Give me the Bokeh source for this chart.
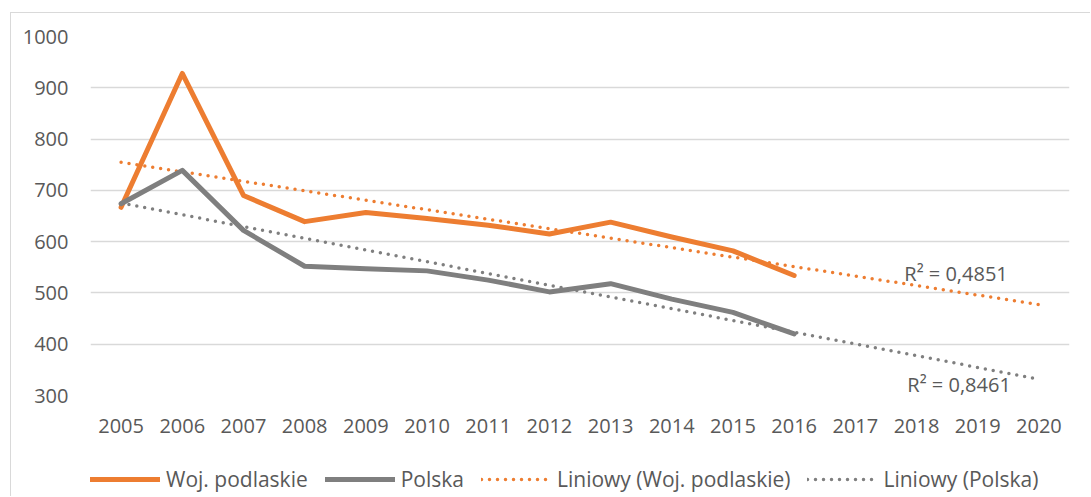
import numpy as np
from bokeh.plotting import figure
from bokeh.layouts import column
from bokeh.models import Range1d, FixedTicker, Legend, LegendItem, ColumnDataSource
from bokeh.core.properties import value
from bokeh.embed import file_html
from bokeh.resources import INLINE

# ---- data ----
years = [2005, 2006, 2007, 2008, 2009, 2010, 2011, 2012, 2013, 2014, 2015, 2016]
axis_years = [2005, 2006, 2007, 2008, 2009, 2010, 2011, 2012, 2013, 2014, 2015, 2016,
              2017, 2018, 2019, 2020]
podlaskie = [667, 928, 690, 639, 657, 645, 632, 615, 638, 609, 582, 534]
polska = [674, 739, 622, 552, 547, 543, 525, 502, 518, 488, 462, 420]
y_ticks = [300, 400, 500, 600, 700, 800, 900, 1000]
r2_podlaskie = "R² = 0,4851"
r2_polska = "R² = 0,8461"
series_names = ["Woj. podlaskie", "Polska", "Liniowy (Woj. podlaskie)", "Liniowy (Polska)"]

ORANGE = "#ED7D31"
GRAY = "#7F7F7F"
TEXT = "#595959"
FONT = "Open Sans"
SOLID = dict(line_width=5, line_cap="round", line_join="round")
DOTTED = dict(line_width=3.5, line_dash="0 8", line_cap="round")

# linear trend lines (as in the spreadsheet's "Liniowy" trendline), extended to 2020
trend_x = [axis_years[0], axis_years[-1]]
k1, b1 = np.polyfit(years, podlaskie, 1)
k2, b2 = np.polyfit(years, polska, 1)
trend_podlaskie = [k1 * x + b1 for x in trend_x]
trend_polska = [k2 * x + b2 for x in trend_x]

src_main = ColumnDataSource(dict(x=years, a=podlaskie, b=polska))
src_trend = ColumnDataSource(dict(x=trend_x, a=trend_podlaskie, b=trend_polska))

p = figure(width=1079, height=432, output_backend="svg", toolbar_location=None,
           x_range=Range1d(2004.5, 2020.5), y_range=Range1d(300, 1000),
           min_border_left=79, min_border_right=21, min_border_top=23, min_border_bottom=50)
p.outline_line_color = None
p.background_fill_color = "white"
p.border_fill_color = "white"

p.xgrid.grid_line_color = None
p.ygrid.grid_line_color = "#d9d9d9"
p.ygrid.grid_line_width = 1.5

p.xaxis.ticker = FixedTicker(ticks=axis_years)
p.yaxis.ticker = FixedTicker(ticks=y_ticks)
for ax in (p.xaxis, p.yaxis):
    ax.axis_line_color = None
    ax.major_tick_line_color = None
    ax.minor_tick_line_color = None
    ax.major_tick_out = 0
    ax.major_tick_in = 0
    ax.minor_tick_out = 0
    ax.major_label_text_font = FONT
    ax.major_label_text_font_size = "20px"
    ax.major_label_text_color = TEXT
p.yaxis.major_label_standoff = 22
p.xaxis.major_label_standoff = 23

p.line("x", "a", source=src_trend, line_color=ORANGE, **DOTTED)
p.line("x", "b", source=src_trend, line_color=GRAY, **DOTTED)
p.line("x", "a", source=src_main, line_color=ORANGE, **SOLID)
p.line("x", "b", source=src_main, line_color=GRAY, **SOLID)

p.text(x=[2017.8], y=[538], text=[r2_podlaskie], text_font=value(FONT),
       text_font_size="20px", text_color=TEXT, text_baseline="middle", text_align="left")
p.text(x=[2017.85], y=[321], text=[r2_polska], text_font=value(FONT),
       text_font_size="20px", text_color=TEXT, text_baseline="middle", text_align="left")

# legend strip below the chart (its renderers only provide the legend samples;
# their single point lies outside the strip's range, so nothing else is drawn)
lg = figure(width=1079, height=51, output_backend="svg", toolbar_location=None,
            x_range=Range1d(0, 1), y_range=Range1d(0, 1),
            x_axis_type=None, y_axis_type=None, min_border=0)
lg.outline_line_color = None
lg.grid.visible = False
lg_src = ColumnDataSource(dict(x=[-10], y=[-10]))
s1 = lg.line("x", "y", source=lg_src, line_color=ORANGE, **SOLID)
s2 = lg.line("x", "y", source=lg_src, line_color=GRAY, **SOLID)
s3 = lg.line("x", "y", source=lg_src, line_color=ORANGE, **DOTTED)
s4 = lg.line("x", "y", source=lg_src, line_color=GRAY, **DOTTED)

legend = Legend(items=[LegendItem(label=series_names[0], renderers=[s1]),
                       LegendItem(label=series_names[1], renderers=[s2]),
                       LegendItem(label=series_names[2], renderers=[s3]),
                       LegendItem(label=series_names[3], renderers=[s4])],
                orientation="horizontal", location=(0, 3))
legend.label_text_font = FONT
legend.label_text_font_size = "21px"
legend.label_text_color = TEXT
legend.glyph_width = 70
legend.glyph_height = 20
legend.label_standoff = 6
legend.spacing = 17
legend.padding = 0
legend.margin = 0
legend.border_line_color = None
legend.background_fill_alpha = 0
lg.add_layout(legend, "center")

layout = column(p, lg, spacing=0, margin=(12, 0, 0, 10),
                styles={"border-left": "1px solid #d9d9d9", "border-top": "1px solid #d9d9d9"})

open("out.html", "w").write(file_html(layout, INLINE))
